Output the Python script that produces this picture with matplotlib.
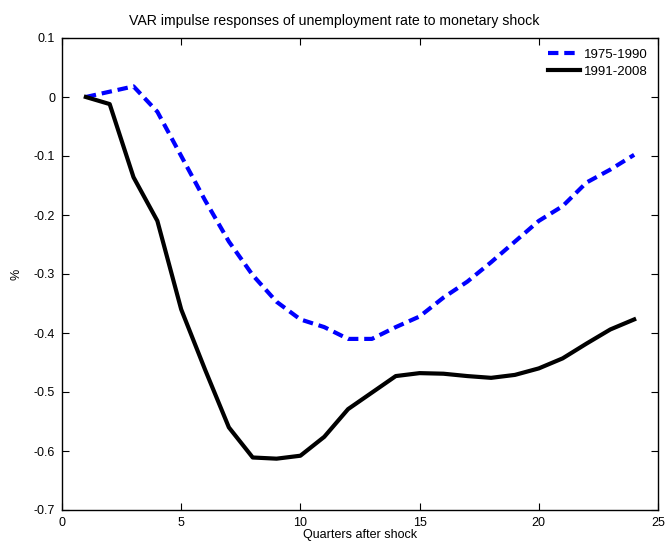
import matplotlib
matplotlib.use('Agg')
import matplotlib.pyplot as plt

plt.rcParams['font.family'] = ['Liberation Sans', 'DejaVu Sans']

# Impulse responses by quarter after the shock
quarters = list(range(1, 25))
resp_1975_1990 = [0.0, 0.009, 0.018, -0.025, -0.100, -0.175, -0.245, -0.302,
                  -0.347, -0.377, -0.390, -0.410, -0.410, -0.390, -0.372, -0.340,
                  -0.313, -0.280, -0.245, -0.210, -0.185, -0.145, -0.123, -0.098]
resp_1991_2008 = [0.0, -0.012, -0.136, -0.210, -0.360, -0.462, -0.560, -0.611,
                  -0.613, -0.608, -0.576, -0.529, -0.501, -0.473, -0.468, -0.469,
                  -0.473, -0.476, -0.471, -0.460, -0.443, -0.418, -0.394, -0.377]

fig = plt.figure(figsize=(6.68, 5.44), dpi=100)
ax = fig.add_axes([62 / 668, 1 - 510 / 544, 596 / 668, 472 / 544])

ax.plot(quarters, resp_1975_1990, color='#0000ff', lw=3, ls=(0, (2.5, 1.4)),
        label='1975-1990')
ax.plot(quarters, resp_1991_2008, color='black', lw=3, label='1991-2008')

ax.set_xlim(0, 25)
ax.set_ylim(-0.7, 0.1)
ax.set_xticks([0, 5, 10, 15, 20, 25])
ax.set_yticks([0.1, 0, -0.1, -0.2, -0.3, -0.4, -0.5, -0.6, -0.7])
ax.set_yticklabels(['0.1', '0', '-0.1', '-0.2', '-0.3', '-0.4', '-0.5', '-0.6', '-0.7'])
ax.tick_params(direction='in', top=True, right=True, labelsize=9, length=5)
ax.tick_params(axis='y', pad=5)
ax.tick_params(axis='x', pad=5)
for s in ax.spines.values():
    s.set_linewidth(1.0)

# title sits centred on the whole figure, not on the axes
fig.suptitle('VAR impulse responses of unemployment rate to monetary shock',
             fontsize=10.2, x=0.5, y=1 - 21 / 544, va='center')
ax.set_xlabel('Quarters after shock', fontsize=9, labelpad=0)
ax.set_ylabel('%', fontsize=9, labelpad=8)

ax.legend(loc='upper right', frameon=False, fontsize=9.5, handlelength=2.4,
          handletextpad=0.3, labelspacing=0.35, borderaxespad=0.4)

fig.savefig('out.png', dpi=100)
